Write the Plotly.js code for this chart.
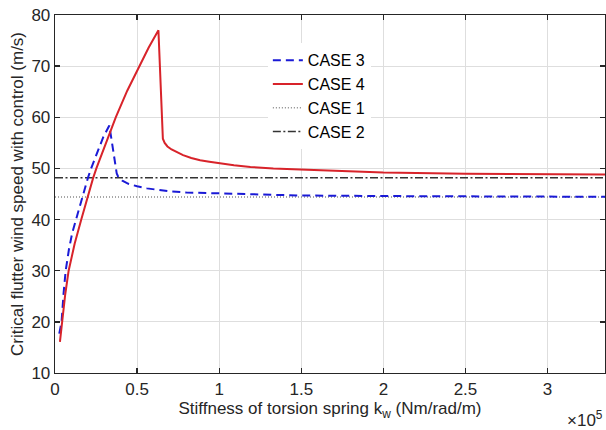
<!DOCTYPE html>
<html>
<head>
<meta charset="utf-8">
<script src="https://cdn.plot.ly/plotly-3.0.1.min.js"></script>
<style>html,body{margin:0;padding:0;background:#fff;}#chart{width:606px;height:430px;}</style>
</head>
<body>
<div id="chart"></div>
<script>
// x values in units of 1e5 Nm/rad/m
const case3X = [0.026, 0.04, 0.052, 0.065, 0.085, 0.105, 0.128, 0.165, 0.2, 0.22, 0.26, 0.295, 0.331, 0.345, 0.356, 0.366, 0.376, 0.386, 0.41, 0.447, 0.5, 0.56, 0.6, 0.7, 0.8, 0.986, 1.2, 1.494, 2.0, 2.5, 3.0, 3.35];
const case3Y = [17.7, 20, 25.5, 30, 34.2, 37.4, 40, 44.4, 48.1, 50, 53.4, 56.2, 58.4, 55.5, 52.5, 50.3, 49.0, 48.3, 47.6, 47.0, 46.5, 46.1, 45.9, 45.5, 45.3, 45.1, 44.9, 44.7, 44.6, 44.5, 44.45, 44.45];

const case4X = [0.03, 0.042, 0.062, 0.083, 0.12, 0.16, 0.197, 0.232, 0.252, 0.31, 0.37, 0.44, 0.514, 0.57, 0.63, 0.657, 0.668, 0.685, 0.71, 0.742, 0.78, 0.83, 0.884, 0.94, 1.006, 1.09, 1.19, 1.33, 1.494, 1.7, 2.0, 2.5, 3.0, 3.35];
const case4Y = [16.1, 20, 25.3, 30, 35.3, 40, 44.4, 48.1, 50, 55.1, 60, 65.2, 70, 73.6, 77.0, 55.8, 55.0, 54.3, 53.7, 53.2, 52.6, 52.05, 51.6, 51.3, 51.0, 50.6, 50.3, 50.0, 49.8, 49.5, 49.2, 48.98, 48.85, 48.8];

const case1X = [0, 3.35];
const case1Y = [44.4, 44.4];
const case2X = [0, 3.35];
const case2Y = [48.2, 48.2];

const xTickVals = [0, 0.5, 1, 1.5, 2, 2.5, 3];
const xTickText = ["0", "0.5", "1", "1.5", "2", "2.5", "3"];
const yTickVals = [10, 20, 30, 40, 50, 60, 70, 80];

const font = "Liberation Sans, Arial, sans-serif";

const traces = [
  {x: case1X, y: case1Y, name: "CASE 1", mode: "lines", legendrank: 3,
   line: {color: "#8a8a8a", width: 1.5, dash: "1px,2px"}},
  {x: case2X, y: case2Y, name: "CASE 2", mode: "lines", legendrank: 4,
   line: {color: "#333333", width: 1.5, dash: "8px,2.5px,2px,2.5px"}},
  {x: case3X, y: case3Y, name: "CASE 3", mode: "lines", legendrank: 1,
   line: {color: "#1a1ad6", width: 2, dash: "8px,5px"}},
  {x: case4X, y: case4Y, name: "CASE 4", mode: "lines", legendrank: 2,
   line: {color: "#d8232a", width: 2}}
];

const axisCommon = {
  showline: true, linecolor: "#262626", linewidth: 1.3, mirror: "ticks",
  ticks: "inside", ticklen: 5, tickwidth: 1.3, tickcolor: "#262626",
  showgrid: true, gridcolor: "#dedede", gridwidth: 1, zeroline: false,
  tickfont: {family: font, size: 17, color: "#262626"}
};

const layout = {
  width: 606, height: 430,
  margin: {l: 55, r: 1, t: 15, b: 57},
  paper_bgcolor: "#ffffff", plot_bgcolor: "#ffffff",
  showlegend: true,
  legend: {x: 0.387, y: 0.921, xanchor: "left", yanchor: "top",
           bgcolor: "#ffffff", borderwidth: 0,
           font: {family: font, size: 16, color: "#000000"}},
  xaxis: Object.assign({}, axisCommon, {
    range: [0, 3.35], tickvals: xTickVals, ticktext: xTickText,
    title: {text: "Stiffness of torsion spring k<sub>w</sub> (Nm/rad/m)", standoff: 4,
            font: {family: font, size: 17, color: "#262626"}}
  }),
  yaxis: Object.assign({}, axisCommon, {
    range: [10, 80], tickvals: yTickVals,
    title: {text: "Critical flutter wind speed with control (m/s)", standoff: 3,
            font: {family: font, size: 17, color: "#262626"}}
  }),
  annotations: [{
    xref: "paper", yref: "paper", x: 1, y: -0.128, xanchor: "right", yanchor: "middle",
    text: "×10<sup>5</sup>", showarrow: false,
    font: {family: font, size: 17, color: "#262626"}
  }]
};

Plotly.newPlot("chart", traces, layout, {displayModeBar: false, staticPlot: true});
</script>
</body>
</html>
